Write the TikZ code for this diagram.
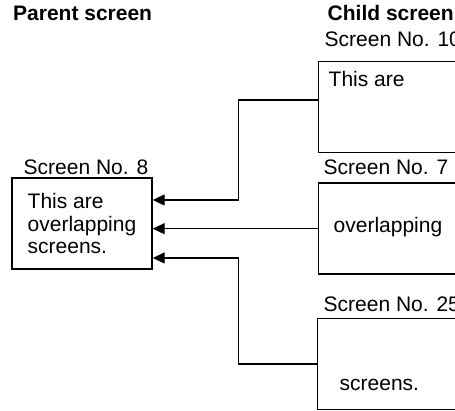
\documentclass[tikz,border=0pt]{standalone}
\usepackage{fontspec}
\setmainfont{Liberation Sans}
\usetikzlibrary{arrows.meta}

\tikzset{every picture/.style={line width=1.4pt}}
\tikzset{
  scrbox/.style={draw, rectangle, inner sep=0pt, minimum width=160, minimum height=91},
  scrtext/.style={anchor=base west, inner sep=0pt},
  link/.style={-{Triangle[length=12pt,width=11pt]}}
}

\begin{document}
\begin{tikzpicture}[x=1pt,y=1pt,yscale=-1,xscale=1,font=\fontsize{21}{22.5}\selectfont]
\useasboundingbox (0,0) rectangle (455,411);
\clip (0,0) rectangle (455,411);

%Headers
\node[scrtext, font=\fontsize{21}{22.5}\selectfont\bfseries] (hparent) at (12.5,20.7) {Parent screen};
\node[scrtext, font=\fontsize{21}{22.5}\selectfont\bfseries] (hchild) at (327,20.7) {Child screen};

%Parent screen
\node[scrbox, minimum width=140, align=left] (p8) at (82,223.5) {This are\\overlapping\\screens.};
\node[scrtext] (l8) at (23,174.3) {Screen No. 8};

%Child screens
\node[scrbox, anchor=north west] (c10) at (318,61) {};
\node[scrtext] (l10) at (324,46.7) {Screen No. 10};
\node[scrtext] (t10) at (328,86.7) {This are};

\node[scrbox, anchor=north west] (c7) at (318,182.5) {};
\node[scrtext] (l7) at (323,175) {Screen No. 7};
\node[scrtext] (t7) at (333,233) {overlapping};

\node[scrbox, anchor=north west] (c25) at (317,318) {};
\node[scrtext] (l25) at (323,311.7) {Screen No. 25};
\node[scrtext] (t25) at (339,390) {screens.};

%Connectors
\draw[link] ([yshift=-7pt]c10.west) -| (238.5,200) -- ([yshift=-23.5pt]p8.east);
\draw[link] (c7.west) -- (p8.east |- c7.west);
\draw[link] (c25.west) -| (238.5,258) -- ([yshift=34.5pt]p8.east);

\end{tikzpicture}
\end{document}
